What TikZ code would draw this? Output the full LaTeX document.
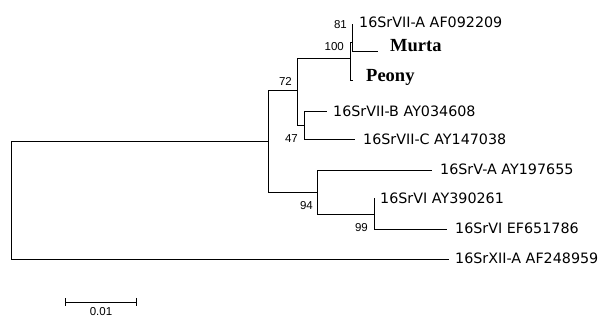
\documentclass[tikz,border=0pt]{standalone}
\usepackage{fontspec}
\setmainfont{Liberation Sans}
\newfontfamily\strainfont{Liberation Serif}
\newfontfamily\taxonfont{DejaVu Sans}
\usetikzlibrary{positioning,arrows.meta}

\tikzset{
	branch/.style = {line width=0.9pt, black},
	taxon/.style = {inner sep=0pt, anchor=west, font=\taxonfont\fontsize{14.3}{16}\selectfont},
	strain/.style = {inner sep=0pt, anchor=base west, font=\strainfont\bfseries\fontsize{18.5}{20}\selectfont},
	boot/.style = {inner sep=0pt, anchor=east, font=\fontsize{11.5}{13}\selectfont},
}

\begin{document}
\begin{tikzpicture} [x=1pt, y=-1pt]
	\useasboundingbox (0,0) rectangle (603,320);
	% inner nodes
	\coordinate (root) at (11,200.5);
	\coordinate (nA) at (268,141);
	\coordinate (n72) at (297,90);
	\coordinate (n100) at (350,58);
	\coordinate (n81) at (352,42);
	\coordinate (n47) at (304,125);
	\coordinate (n94) at (317,192);
	\coordinate (n99) at (374,214);
	% branch ends
	\coordinate (lA) at (352,24);
	\coordinate (lMurta) at (378,51);
	\coordinate (lPeony) at (353,80);
	\coordinate (lB) at (327,111);
	\coordinate (lC) at (355,139);
	\coordinate (lV) at (432,170);
	\coordinate (lVIa) at (374,198);
	\coordinate (lVIb) at (447,229);
	\coordinate (lXII) at (449,259);
	% tree
	\foreach \p/\c in {root/nA, root/lXII, nA/n72, nA/n94, n72/n100, n72/n47, n100/n81, n100/lPeony,
		n81/lA, n81/lMurta, n47/lB, n47/lC, n94/lV, n94/n99, n99/lVIa, n99/lVIb}
		\draw [branch] (\p) |- (\c);
	% taxa
	\node [taxon] (tA) at (359,22) {16SrVII-A AF092209};
	\node [strain] (tMurta) at (390,52) {Murta};
	\node [strain] (tPeony) at (366,82) {Peony};
	\node [taxon] (tB) at (333,111) {16SrVII-B AY034608};
	\node [taxon] (tC) at (363,139) {16SrVII-C AY147038};
	\node [taxon] (tV) at (440,169) {16SrV-A AY197655};
	\node [taxon] (tVIa) at (380,198) {16SrVI AY390261};
	\node [taxon] (tVIb) at (455,228) {16SrVI EF651786};
	\node [taxon] (tXII) at (455,258) {16SrXII-A AF248959};
	% bootstrap values
	\node [boot] (b81) at (347,25) {81};
	\node [boot] (b100) at (344,47) {100};
	\node [boot] (b72) at (292,81) {72};
	\node [boot] (b47) at (298,139) {47};
	\node [boot] (b94) at (313,206) {94};
	\node [boot] (b99) at (368,228) {99};
	% scale bar
	\coordinate (s0) at (65,302);
	\coordinate (s1) at (137,302);
	\draw [branch, {Bar[width=8pt]}-{Bar[width=8pt]}] (s0) -- (s1)
		node [midway, below=5pt, inner sep=0pt, font=\fontsize{11.5}{13}\selectfont] (sLabel) {0.01};
\end{tikzpicture}
\end{document}
